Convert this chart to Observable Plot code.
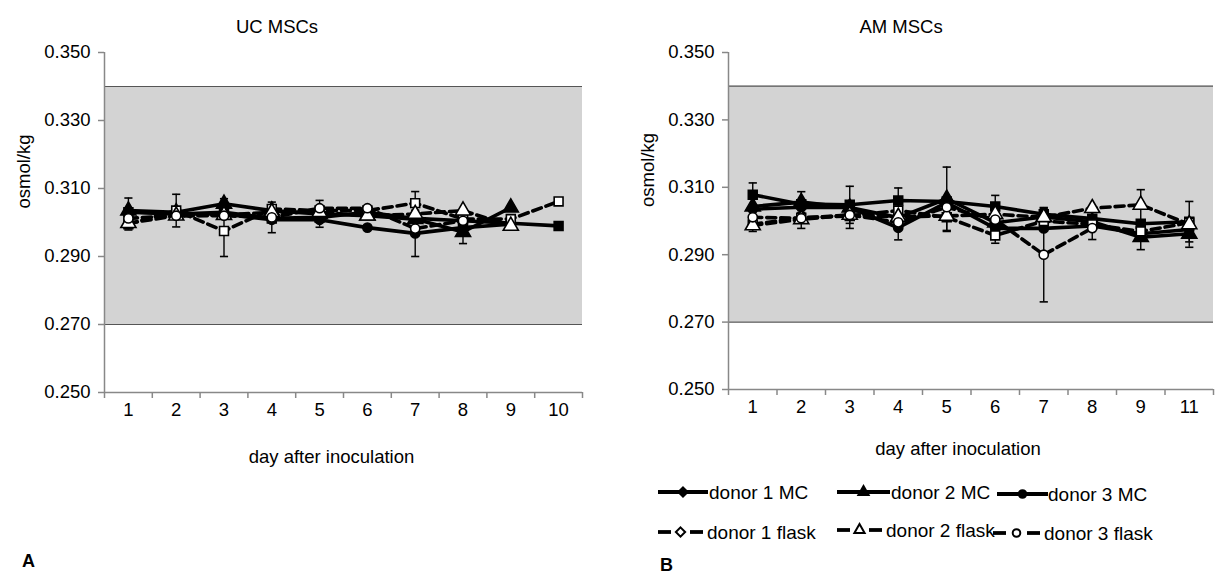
<!DOCTYPE html>
<html><head><meta charset="utf-8">
<script src="https://cdn.jsdelivr.net/npm/d3@7"></script>
<script src="https://cdn.jsdelivr.net/npm/@observablehq/plot@0.6"></script>
<style>
body{margin:0;background:#fff;font-family:"Liberation Sans",Arial,sans-serif;}
#wrap{position:relative;width:1218px;height:575px;overflow:hidden;background:#fff;}
.abs{position:absolute;white-space:nowrap;color:#000;line-height:1;}
.pl{position:absolute;top:0;}
</style></head><body><div id="wrap"></div>
<script>
// ---------- data ----------
const seriesNames = ["donor 1 MC", "donor 2 MC", "donor 3 MC", "donor 1 flask", "donor 2 flask", "donor 3 flask"];
const yTicks = [0.25, 0.27, 0.29, 0.31, 0.33, 0.35];

const ucDays = ["1","2","3","4","5","6","7","8","9","10"];
const ucD1MC = [0.3030,0.3025,0.3030,0.3012,0.3015,0.3030,0.3012,0.3005,0.2998,0.2990];
const ucD2MC = [0.3035,0.3030,0.3055,0.3035,0.3025,0.3020,0.3010,0.2972,0.3044,null];
const ucD3MC = [0.3032,0.3025,0.3025,0.3008,0.3008,0.2985,0.2968,0.2985,0.2995,null];
const ucD1F  = [0.2995,0.3035,0.2975,0.3040,0.3035,0.3035,0.3057,0.3010,0.3010,0.3062];
const ucD2F  = [0.2998,0.3020,0.3022,0.3030,0.3030,0.3020,0.3025,0.3035,0.2990,null];
const ucD3F  = [0.3012,0.3020,0.3020,0.3015,0.3042,0.3042,0.2982,0.3005,null,null];
const ucErrD1MC = [0,0,0,0,0,0,0,0,0,0];
const ucErrD2MC = [0.0037,0,0.0015,0,0,0,0,0.0034,0,0];
const ucErrD3MC = [0,0,0,0,0.0022,0,0.0068,0,0,0];
const ucErrD1F  = [0.0017,0.0048,0.0075,0,0,0,0.0034,0,0,0];
const ucErrD2F  = [0,0,0,0,0,0,0,0,0.0012,0];
const ucErrD3F  = [0,0,0,0.0045,0.0023,0,0,0,0,0];

const amDays = ["1","2","3","4","5","6","7","8","9","11"];
const amD1MC = [0.3078,0.3050,0.3048,0.3061,0.3058,0.3043,0.3020,0.3007,0.2992,0.2998];
const amD2MC = [0.3043,0.3056,0.3040,0.3010,0.3066,0.2995,0.3012,0.2998,0.2952,0.2962];
const amD3MC = [0.3035,0.3041,0.3040,0.2980,0.3055,0.2978,0.2978,0.2985,0.2962,0.2975];
const amD1F  = [0.2990,0.3010,0.3015,0.3031,0.3011,0.2957,0.3000,0.2990,0.2969,0.2995];
const amD2F  = [0.2987,0.3005,0.3018,0.3012,0.3015,0.3020,0.3011,0.3038,0.3048,0.2990];
const amD3F  = [0.3011,0.3008,0.3018,0.2996,0.3041,0.3004,0.2900,0.2979,null,null];
const amErrD1MC = [0.0035,0,0.0055,0.0037,0,0.0033,0,0,0,0.006];
const amErrD2MC = [0,0.0031,0,0,0.0094,0,0,0,0.0037,0.004];
const amErrD3MC = [0,0,0,0.0036,0,0,0,0,0,0];
const amErrD1F  = [0,0,0.0037,0,0.0042,0.0023,0,0,0,0];
const amErrD2F  = [0.0018,0,0,0,0,0,0.0027,0,0.0045,0];
const amErrD3F  = [0,0.003,0,0,0,0,0.014,0.0034,0,0];

// ---------- styling ----------
const FS = 18.5;
const symbols = ["square","triangle","circle","square","triangle","circle"];
const fills = ["#000","#000","#000","#fff","#fff","#fff"];
const radii = {square: 5, triangle: 5.6, circle: 4.6};

function makePanel(days, vals, errs, o) {
  const n = days.length;
  const rows = [], errRows = [];
  vals.forEach((arr, s) => arr.forEach((v, k) => {
    if (v == null) return;
    rows.push({s, i: k + 1, v});
    const e = errs[s][k];
    if (e > 0) errRows.push({i: k + 1, lo: v - e, hi: v + e});
  }));
  const idx = days.map((d, k) => k + 1);
  const edges = d3.range(0, n + 1).map(k => k + 0.5);
  const capW = 0.085;
  const marks = [
    Plot.rect([0], {x1: 0.5, x2: n + 0.5, y1: 0.27, y2: 0.34, fill: "#d3d3d3"}),
    Plot.ruleY([0.34, 0.27], {x1: 0.5, x2: n + 0.5, stroke: "#555", strokeWidth: 1.2}),
    Plot.ruleX([0.5], {y1: 0.25, y2: 0.35, stroke: "#888", strokeWidth: 1.5}),
    Plot.ruleY([0.25], {x1: 0.5, x2: n + 0.5, stroke: "#888", strokeWidth: 1.5}),
    Plot.axisY({ticks: yTicks, tickFormat: d3.format(".3f"), tickSize: 6, tickPadding: 8, stroke: "#888", strokeWidth: 1.5, fontSize: FS, label: null}),
    Plot.axisX({ticks: edges, tickFormat: () => "", tickSize: 6, stroke: "#888", strokeWidth: 1.5, label: null}),
    Plot.axisX({ticks: idx, tickFormat: i => days[i - 1], tickSize: 0, tickPadding: 10, fontSize: FS, label: null}),
    Plot.text(["osmol/kg"], {frameAnchor: "left", dx: -80, dy: -14, rotate: -90, fontSize: FS}),
    Plot.text(["day after inoculation"], {frameAnchor: "bottom", dx: o.xlabDx, dy: o.xlabDy, fontSize: FS}),
    ...vals.map((arr, s) => Plot.line(rows.filter(r => r.s === s), {
      x: "i", y: "v", stroke: "#000", strokeWidth: 3.6,
      strokeDasharray: s >= 3 ? "9,5" : null, curve: "linear"
    })),
    Plot.ruleX(errRows, {x: "i", y1: "lo", y2: "hi", stroke: "#000", strokeWidth: 1.4}),
    Plot.link(errRows, {x1: d => d.i - capW, x2: d => d.i + capW, y1: "lo", y2: "lo", stroke: "#000", strokeWidth: 1.6}),
    Plot.link(errRows, {x1: d => d.i - capW, x2: d => d.i + capW, y1: "hi", y2: "hi", stroke: "#000", strokeWidth: 1.6}),
    ...vals.map((arr, s) => Plot.dot(rows.filter(r => r.s === s), {
      x: "i", y: "v", symbol: symbols[s], r: radii[symbols[s]],
      fill: fills[s], stroke: "#000", strokeWidth: 1.6
    }))
  ];
  return Plot.plot({
    width: 600, height: 480,
    marginLeft: o.ml, marginRight: o.mr, marginTop: 52, marginBottom: o.mb,
    x: {domain: [0.5, n + 0.5]},
    y: {domain: [0.25, 0.35]},
    style: {fontFamily: '"Liberation Sans", Arial, sans-serif', fontSize: FS + "px", color: "#000", background: "transparent"},
    marks
  });
}

const wrap = document.getElementById("wrap");
const p1 = makePanel(ucDays, [ucD1MC, ucD2MC, ucD3MC, ucD1F, ucD2F, ucD3F],
  [ucErrD1MC, ucErrD2MC, ucErrD3MC, ucErrD1F, ucErrD2F, ucErrD3F],
  {ml: 104, mr: 18, mb: 88, xlabDx: -12, xlabDy: 70});
p1.classList.add("pl"); p1.style.left = "0px";
wrap.appendChild(p1);
const p2 = makePanel(amDays, [amD1MC, amD2MC, amD3MC, amD1F, amD2F, amD3F],
  [amErrD1MC, amErrD2MC, amErrD3MC, amErrD1F, amErrD2F, amErrD3F],
  {ml: 110, mr: 5, mb: 91, xlabDx: -13, xlabDy: 65});
p2.classList.add("pl"); p2.style.left = "618px";
wrap.appendChild(p2);

function addText(txt, x, y, size, anchor, bold) {
  const d = document.createElement("div");
  d.className = "abs";
  d.textContent = txt;
  d.style.fontSize = size + "px";
  d.style.top = (y - size * 0.5) + "px";
  if (anchor === "middle") { d.style.left = x + "px"; d.style.transform = "translateX(-50%)"; }
  else d.style.left = x + "px";
  if (bold) d.style.fontWeight = "bold";
  wrap.appendChild(d);
}
addText("UC MSCs", 277, 27, FS, "middle");
addText("AM MSCs", 901, 27, FS, "middle");
addText("A", 22, 561, 18, "left", true);
addText("B", 660, 565, 18, "left", true);

// legend
const legendPos = [
  {sx: 658, sw: 50, tx: 709, y: 492},
  {sx: 837, sw: 53, tx: 891, y: 492},
  {sx: 997, sw: 51, tx: 1048, y: 494},
  {sx: 658, sw: 45, tx: 707, y: 532},
  {sx: 837, sw: 45, tx: 886, y: 530},
  {sx: 993, sw: 47, tx: 1044, y: 533}
];
const legendSym = ["diamond","triangle","circle","diamond","triangle","circle"];
seriesNames.forEach((name, s) => {
  const p = legendPos[s];
  const svg = d3.create("svg").attr("width", p.sw).attr("height", 18)
    .style("position", "absolute").style("left", p.sx + "px").style("top", (p.y - 9) + "px");
  const dashed = s >= 3;
  if (dashed) {
    svg.append("line").attr("x1", 0).attr("x2", 13).attr("y1", 9).attr("y2", 9).attr("stroke", "#000").attr("stroke-width", 3.8);
    svg.append("line").attr("x1", p.sw - 13).attr("x2", p.sw).attr("y1", 9).attr("y2", 9).attr("stroke", "#000").attr("stroke-width", 3.8);
  } else {
    svg.append("line").attr("x1", 0).attr("x2", p.sw).attr("y1", 9).attr("y2", 9).attr("stroke", "#000").attr("stroke-width", 3.8);
  }
  const symMap = {diamond: d3.symbolDiamond2, triangle: d3.symbolTriangle, circle: d3.symbolCircle};
  const size = legendSym[s] === "diamond" ? 55 : 45;
  svg.append("path").attr("d", d3.symbol(symMap[legendSym[s]], size)())
    .attr("transform", `translate(${p.sw / 2},9)`)
    .attr("fill", dashed ? "#fff" : "#000").attr("stroke", "#000").attr("stroke-width", 2);
  wrap.appendChild(svg.node());
  addText(name, p.tx, p.y, 19, "left");
});
</script>
</body></html>
